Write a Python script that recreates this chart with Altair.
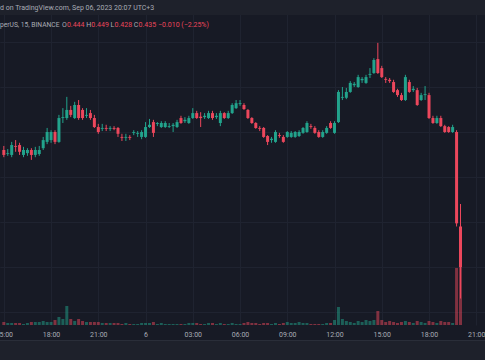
import altair as alt
import pandas as pd

# ---- data (15-minute candles, BINANCE) ----
opens = [0.4610, 0.4601, 0.4599, 0.4619, 0.4621, 0.4599, 0.4603, 0.4610, 0.4599, 0.4601,
         0.4614, 0.4628, 0.4632, 0.4650, 0.4628, 0.4681, 0.4681, 0.4699, 0.4681, 0.4710,
         0.4699, 0.4686, 0.4692, 0.4681, 0.4661, 0.4657, 0.4659, 0.4657, 0.4659, 0.4659,
         0.4639, 0.4637, 0.4639, 0.4648, 0.4646, 0.4639, 0.4639, 0.4661, 0.4672, 0.4668,
         0.4661, 0.4661, 0.4661, 0.4663, 0.4661, 0.4681, 0.4674, 0.4670, 0.4681, 0.4692,
         0.4684, 0.4683, 0.4681, 0.4692, 0.4683, 0.4670, 0.4692, 0.4681, 0.4692, 0.4703,
         0.4712, 0.4710, 0.4699, 0.4681, 0.4670, 0.4659, 0.4659, 0.4641, 0.4632, 0.4628,
         0.4643, 0.4639, 0.4639, 0.4639, 0.4639, 0.4641, 0.4648, 0.4650, 0.4663, 0.4659,
         0.4650, 0.4639, 0.4648, 0.4670, 0.4648, 0.4672, 0.4726, 0.4726, 0.4739, 0.4754,
         0.4750, 0.4765, 0.4759, 0.4777, 0.4781, 0.4812, 0.4792, 0.4768, 0.4766, 0.4761,
         0.4743, 0.4732, 0.4721, 0.4761, 0.4743, 0.4743, 0.4721, 0.4732, 0.4732, 0.4681,
         0.4670, 0.4681, 0.4663, 0.4661, 0.4650, 0.4650, 0.4440]
closes = [0.4599, 0.4603, 0.4621, 0.4617, 0.4606, 0.4610, 0.4610, 0.4599, 0.4610, 0.4610,
          0.4632, 0.4650, 0.4650, 0.4628, 0.4681, 0.4683, 0.4699, 0.4688, 0.4710, 0.4681,
          0.4681, 0.4688, 0.4681, 0.4661, 0.4650, 0.4659, 0.4657, 0.4659, 0.4657, 0.4646,
          0.4637, 0.4639, 0.4637, 0.4650, 0.4648, 0.4650, 0.4661, 0.4666, 0.4648, 0.4670,
          0.4670, 0.4670, 0.4663, 0.4666, 0.4672, 0.4670, 0.4677, 0.4681, 0.4692, 0.4681,
          0.4681, 0.4686, 0.4692, 0.4681, 0.4686, 0.4692, 0.4681, 0.4692, 0.4710, 0.4714,
          0.4714, 0.4701, 0.4681, 0.4670, 0.4659, 0.4657, 0.4639, 0.4628, 0.4635, 0.4650,
          0.4641, 0.4628, 0.4650, 0.4648, 0.4650, 0.4650, 0.4659, 0.4670, 0.4661, 0.4648,
          0.4639, 0.4650, 0.4659, 0.4659, 0.4670, 0.4739, 0.4728, 0.4739, 0.4759, 0.4757,
          0.4772, 0.4768, 0.4772, 0.4779, 0.4810, 0.4781, 0.4772, 0.4766, 0.4763, 0.4739,
          0.4732, 0.4721, 0.4772, 0.4739, 0.4746, 0.4710, 0.4732, 0.4734, 0.4681, 0.4670,
          0.4681, 0.4663, 0.4650, 0.4650, 0.4661, 0.4447, 0.4350]
highs = [0.4619, 0.4612, 0.4628, 0.4632, 0.4626, 0.4617, 0.4614, 0.4614, 0.4617, 0.4619,
         0.4639, 0.4659, 0.4654, 0.4654, 0.4688, 0.4703, 0.4728, 0.4708, 0.4717, 0.4721,
         0.4703, 0.4703, 0.4699, 0.4688, 0.4668, 0.4668, 0.4666, 0.4663, 0.4663, 0.4661,
         0.4646, 0.4646, 0.4643, 0.4654, 0.4652, 0.4654, 0.4672, 0.4679, 0.4677, 0.4672,
         0.4674, 0.4674, 0.4670, 0.4670, 0.4677, 0.4686, 0.4683, 0.4686, 0.4703, 0.4697,
         0.4694, 0.4692, 0.4697, 0.4697, 0.4692, 0.4697, 0.4694, 0.4697, 0.4714, 0.4721,
         0.4721, 0.4714, 0.4701, 0.4683, 0.4672, 0.4663, 0.4661, 0.4643, 0.4639, 0.4654,
         0.4648, 0.4643, 0.4652, 0.4652, 0.4652, 0.4654, 0.4661, 0.4674, 0.4668, 0.4663,
         0.4654, 0.4654, 0.4663, 0.4674, 0.4674, 0.4743, 0.4750, 0.4748, 0.4763, 0.4761,
         0.4777, 0.4772, 0.4777, 0.4792, 0.4814, 0.4848, 0.4797, 0.4772, 0.4770, 0.4766,
         0.4746, 0.4737, 0.4777, 0.4766, 0.4752, 0.4748, 0.4737, 0.4752, 0.4737, 0.4686,
         0.4686, 0.4686, 0.4666, 0.4663, 0.4666, 0.4654, 0.4490]
lows = [0.4594, 0.4597, 0.4594, 0.4606, 0.4599, 0.4594, 0.4597, 0.4588, 0.4594, 0.4597,
        0.4610, 0.4623, 0.4626, 0.4623, 0.4626, 0.4670, 0.4677, 0.4683, 0.4679, 0.4677,
        0.4677, 0.4681, 0.4677, 0.4659, 0.4646, 0.4652, 0.4652, 0.4652, 0.4654, 0.4639,
        0.4630, 0.4630, 0.4632, 0.4643, 0.4639, 0.4634, 0.4637, 0.4659, 0.4639, 0.4663,
        0.4659, 0.4659, 0.4659, 0.4650, 0.4659, 0.4668, 0.4670, 0.4668, 0.4679, 0.4679,
        0.4661, 0.4679, 0.4679, 0.4677, 0.4679, 0.4663, 0.4679, 0.4679, 0.4690, 0.4701,
        0.4708, 0.4699, 0.4679, 0.4668, 0.4657, 0.4652, 0.4637, 0.4621, 0.4626, 0.4626,
        0.4637, 0.4626, 0.4637, 0.4637, 0.4637, 0.4639, 0.4646, 0.4648, 0.4657, 0.4646,
        0.4637, 0.4637, 0.4646, 0.4657, 0.4646, 0.4670, 0.4721, 0.4723, 0.4737, 0.4750,
        0.4748, 0.4759, 0.4757, 0.4770, 0.4779, 0.4779, 0.4770, 0.4759, 0.4759, 0.4737,
        0.4728, 0.4719, 0.4719, 0.4737, 0.4739, 0.4708, 0.4719, 0.4721, 0.4679, 0.4668,
        0.4668, 0.4661, 0.4648, 0.4648, 0.4648, 0.4440, 0.4280]
volumes_k = [120, 80, 80, 80, 80, 40, 80, 120, 120, 120,
             160, 120, 120, 200, 320, 240, 760, 240, 160, 240,
             160, 120, 120, 120, 120, 80, 80, 80, 80, 80,
             40, 80, 40, 40, 40, 80, 80, 80, 120, 40,
             80, 40, 40, 40, 40, 40, 40, 80, 80, 80,
             40, 40, 80, 80, 40, 80, 40, 40, 80, 40,
             40, 80, 120, 80, 80, 40, 80, 80, 40, 80,
             40, 80, 120, 80, 80, 120, 80, 80, 40, 40,
             40, 40, 80, 80, 200, 720, 240, 160, 120, 80,
             160, 120, 200, 160, 200, 560, 200, 120, 160, 120,
             80, 120, 160, 120, 80, 160, 120, 80, 160, 120,
             80, 160, 120, 120, 80, 2280, 2400]
first_candle = "2023-09-05 15:00"
axis_ticks = ["2023-09-05 15:00", "2023-09-05 18:00", "2023-09-05 21:00",
              "2023-09-06 00:00", "2023-09-06 03:00", "2023-09-06 06:00",
              "2023-09-06 09:00", "2023-09-06 12:00", "2023-09-06 15:00",
              "2023-09-06 18:00", "2023-09-06 21:00"]
price_levels = [0.425, 0.435, 0.445, 0.455, 0.465, 0.475, 0.485]
header_line = "d on TradingView.com, Sep 06, 2023 20:07 UTC+3"
symbol_text = "perUS, 15, BINANCE"
ohlc_labels = ["O", "H", "L", "C"]
ohlc_values = ["0.444", "0.449", "0.428", "0.435"]
change_text = "\u22120.010 (\u22122.25%)"

# ---- style ----
BG = "#171a25"
BAND = "#1e212b"
GRID = "#1f2330"
UP = "#22a38c"
DOWN = "#ec475c"
TXT = "#a9acb5"
FONT = "Roboto"
W, H = 485, 325

times = pd.date_range(first_candle, periods=len(opens), freq="15min", tz="UTC")
df = pd.DataFrame({
    "t": times.strftime("%Y-%m-%dT%H:%M:%SZ"),
    "open": opens, "close": closes, "high": highs, "low": lows,
    "volume": volumes_k,
})
df["dir"] = ["up" if c >= o else "down" for o, c in zip(opens, closes)]


def ms(s):
    return int(pd.Timestamp(s, tz="UTC").value // 10**6)


step = 15 * 60 * 1000
t0 = ms(first_candle)
x_domain = [t0 + 0.3 * step, t0 + 120.95 * step]
tick_ms = [ms(s) for s in axis_ticks]

x_enc = alt.X(
    "t:T",
    scale=alt.Scale(type="utc", domain=x_domain),
    axis=alt.Axis(
        values=tick_ms, title=None, grid=True, gridColor=GRID, ticks=False, domain=False,
        labelExpr="utchours(datum.value) == 0 ? utcFormat(datum.value, '%-d') : utcFormat(datum.value, '%H:%M')",
        labelColor=TXT, labelFont=FONT, labelFontSize=7, labelPadding=5,
        labelFlush=False, labelOverlap=False,
    ),
)
color_enc = alt.Color("dir:N", scale=alt.Scale(domain=["up", "down"], range=[UP, DOWN]), legend=None)
price_scale = alt.Scale(domain=[0.42211, 0.49433], nice=False, zero=False)
price_axis = alt.Axis(values=price_levels, title=None, grid=True, gridColor=GRID,
                      labels=False, ticks=False, domain=False)

base = alt.Chart(df)
volume = base.mark_bar(size=3, opacity=0.5).encode(
    x=x_enc,
    y=alt.Y("volume:Q", scale=alt.Scale(domain=[0, 13000], nice=False), axis=None),
    color=color_enc,
)
wicks = base.mark_rule(strokeWidth=1).encode(
    x=x_enc,
    y=alt.Y("low:Q", scale=price_scale, axis=price_axis),
    y2="high:Q",
    color=color_enc,
)
bodies = base.mark_bar(size=3).encode(
    x=x_enc,
    y=alt.Y("open:Q", scale=price_scale, axis=price_axis),
    y2="close:Q",
    color=color_enc,
)

one = alt.Data(values=[{}])


def band(y0, y1, fill):
    return alt.Chart(one).mark_rect(color=fill).encode(
        x=alt.value(0), x2=alt.value(W), y=alt.value(y0), y2=alt.value(y1))


def label(txt, px, py, col, size=7):
    return alt.Chart(one).mark_text(align="left", baseline="middle", font=FONT,
                                    fontSize=size, color=col).encode(
        x=alt.value(px), y=alt.value(py), text=alt.value(txt))


header = band(0, 15, BAND)
footer = band(340, 360, BAND)
sep = alt.Chart(one).mark_rule(color="#2a2e39", strokeWidth=1).encode(
    x=alt.value(0), x2=alt.value(W), y=alt.value(340.5))

texts = [label(header_line, 0, 8, TXT), label(symbol_text, 0, 24.5, TXT, 6.7)]
label_x = [62, 86.2, 110.6, 133.8]
value_x = [66.9, 91.3, 114.5, 138.5]
for lab, val, lx, vx in zip(ohlc_labels, ohlc_values, label_x, value_x):
    texts.append(label(lab, lx, 24.5, TXT))
    texts.append(label(val, vx, 24.5, DOWN))
texts.append(label(change_text, 158, 24.5, DOWN))

chart = alt.layer(volume, wicks, bodies, header, footer, sep, *texts).resolve_scale(
    y="independent"
).properties(
    width=W, height=H,
    autosize=alt.AutoSizeParams(type="none"),
    padding={"left": 0, "right": 0, "top": 0, "bottom": 35},
).configure(background=BG).configure_view(stroke=None)

chart.save("out.html", embed_options={"renderer": "svg", "actions": False})
